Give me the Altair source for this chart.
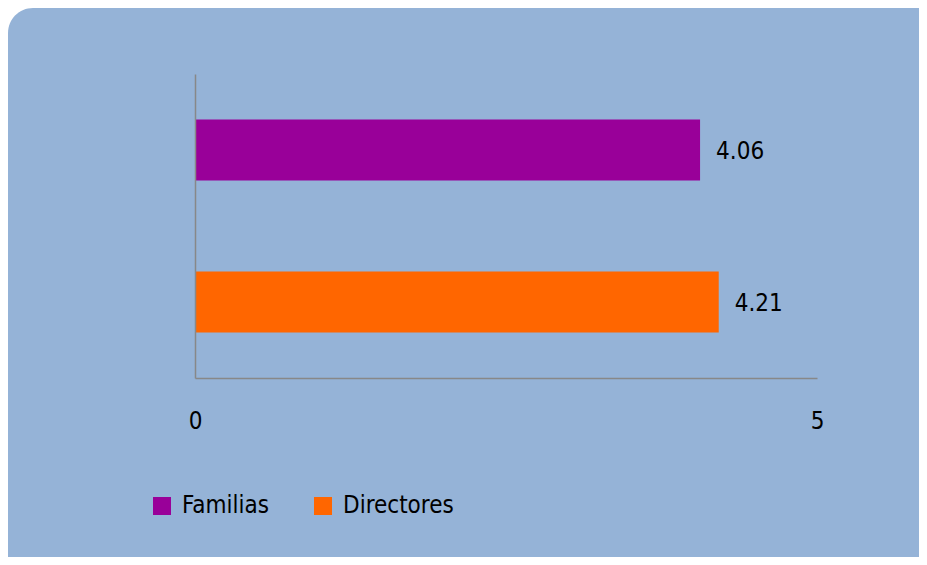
import altair as alt
import pandas as pd

# ---- data ----
categories = ["Familias", "Directores"]
values = [4.06, 4.21]
value_labels = ["4.06", "4.21"]
colors = ["#990099", "#FF6600"]
x_ticks = [0, 5]

df = pd.DataFrame({"grupo": categories, "valor": values, "etiqueta": value_labels})

W, H = 622, 304
PAD = {"left": 187, "top": 66, "right": 102, "bottom": 179}
FONT = "DejaVu Sans Condensed"
AXIS_GREY = "#888888"
PANEL = "#95B3D7"

# rounded background panel (decorative)
panel = alt.Chart(pd.DataFrame({"k": [0]})).mark_rect(
    color=PANEL, cornerRadiusTopLeft=25, cornerRadiusTopRight=25
).encode(
    x=alt.value(-PAD["left"]),
    x2=alt.value(W + PAD["right"] + 200),
    y=alt.value(-PAD["top"]),
    y2=alt.value(H + PAD["bottom"] + 40),
)

y_enc = alt.Y(
    "grupo:N",
    sort=categories,
    scale=alt.Scale(paddingInner=0.6, paddingOuter=0.3),
    axis=alt.Axis(labels=False, ticks=False, title=None, grid=False,
                  domainColor=AXIS_GREY, domainWidth=1.5, zindex=1),
)

bars = alt.Chart(df).mark_bar().encode(
    x=alt.X(
        "valor:Q",
        scale=alt.Scale(domain=[0, 5], nice=False),
        axis=alt.Axis(values=x_ticks, ticks=False, tickSize=0, grid=False, title=None,
                      domainColor=AXIS_GREY, domainWidth=1.5, format="d",
                      labelFont=FONT, labelFontSize=24, labelColor="black",
                      labelFlush=False, labelPadding=31, zindex=1),
    ),
    y=y_enc,
    color=alt.Color(
        "grupo:N",
        scale=alt.Scale(domain=categories, range=colors),
        legend=alt.Legend(
            title=None, orient="none", legendX=-45, legendY=420,
            direction="horizontal", symbolType="square", symbolSize=324,
            symbolStrokeWidth=0, symbolOpacity=1,
            labelFont=FONT, labelFontSize=24, labelColor="black",
            labelOffset=8, columnPadding=42, zindex=1,
        ),
    ),
)

text = alt.Chart(df).mark_text(
    align="left", baseline="middle", dx=16, dy=2, font=FONT, fontSize=24, color="black"
).encode(
    x=alt.X("valor:Q"),
    y=alt.Y("grupo:N", sort=categories),
    text="etiqueta:N",
)

chart = alt.layer(panel, bars, text).properties(
    width=W, height=H, padding=PAD,
    autosize=alt.AutoSizeParams(type="none"),
    background="white",
).configure_view(stroke=None)

chart.save("out.html", embed_options={"renderer": "svg", "actions": False})
